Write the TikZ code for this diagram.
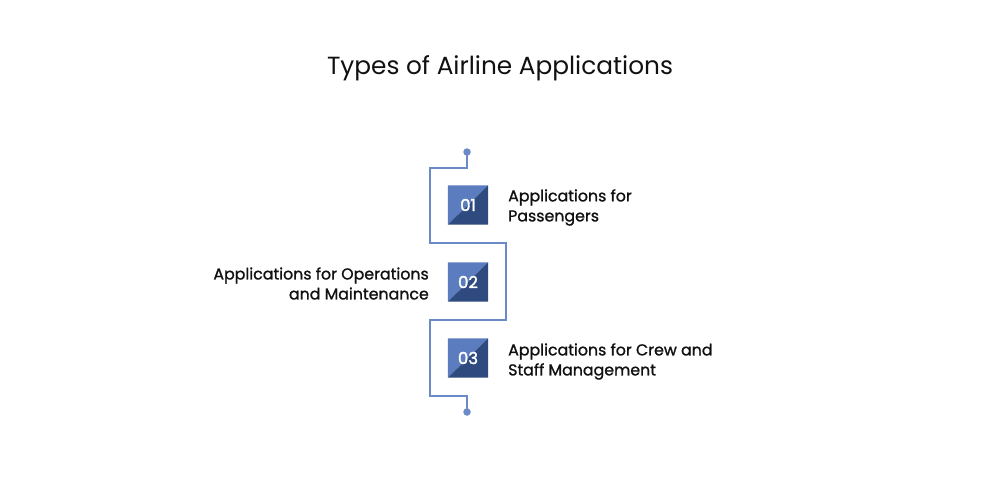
\documentclass[tikz,border=0pt]{standalone}
\usepackage{fontspec}
\setmainfont{Poppins}
\newfontfamily\medfont{Poppins}[FakeBold=1.2]
\newfontfamily\numfont{Poppins}[FakeBold=1.8]
\definecolor{linec}{HTML}{6A8AC8}
\definecolor{lightb}{HTML}{5B7DBF}
\definecolor{darkb}{HTML}{2E4A7E}
\definecolor{txt}{HTML}{111111}
\begin{document}
\begin{tikzpicture}[x=1pt,y=-1pt,
  conn/.style={draw=linec,line width=2.2pt},
  dotc/.style={circle,fill=linec,inner sep=0pt,minimum size=7.5pt},
  numbox/.style={minimum width=40pt,minimum height=39pt,inner sep=0pt,text=white,font=\numfont\fontsize{16.5}{18}\selectfont},
  lbl/.style={text=txt,font=\medfont\fontsize{15.8}{20}\selectfont,inner sep=0pt}]
\useasboundingbox (0,0) rectangle (1000,500);
\node[text=txt,font=\fontsize{24.8}{28}\selectfont] (title) at (500,68) {Types of Airline Applications};
\node[dotc] (top) at (467,152) {};
\node[dotc] (bot) at (467,412) {};
\coordinate (a1) at (467,168);
\coordinate (a2) at (430,168);
\coordinate (a3) at (430,243);
\coordinate (a4) at (506,243);
\coordinate (a5) at (506,320);
\coordinate (a6) at (430,320);
\coordinate (a7) at (430,396);
\coordinate (a8) at (467,396);
\draw[conn] (top.center) -- (a1) -- (a2) -- (a3) -- (a4) -- (a5) -- (a6) -- (a7) -- (a8) -- (bot.center);
\foreach \n/\y in {1/205,2/282,3/358}{
  \node[numbox] (b\n) at (468,\y) {};
  \fill[lightb] (b\n.north west) -- (b\n.north east) -- (b\n.south west) -- cycle;
  \fill[darkb] (b\n.north east) -- (b\n.south east) -- (b\n.south west) -- cycle;
  \node[numbox] (n\n) at (b\n.center) {0\n};
}
\node[lbl,anchor=west,align=left] (l1) at (508,207.5) {Applications for\\Passengers};
\node[lbl,anchor=east,align=right] (l2) at (429,283.5) {Applications for Operations\\and Maintenance};
\node[lbl,anchor=west,align=left] (l3) at (508,361.5) {Applications for Crew and\\Staff Management};
\end{tikzpicture}
\end{document}
